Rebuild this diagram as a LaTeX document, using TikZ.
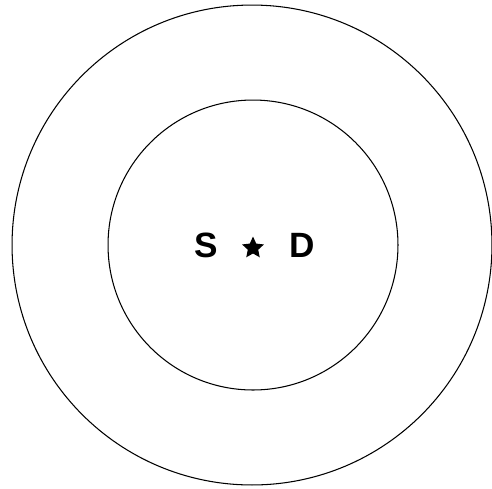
\documentclass[tikz,border=0pt]{standalone}
\usepackage{fontspec}
\setmainfont{Liberation Sans}
\usepackage{tikz}
\usetikzlibrary{positioning,shapes.geometric}

\begin{document}
\begin{tikzpicture}[
  x=0.02cm, y=-0.02cm,
  ring/.style={draw, circle, line width=0.6pt, inner sep=0pt, outer sep=0pt},
  lbl/.style={font=\fontsize{20}{24}\selectfont\bfseries, inner sep=0pt, anchor=base},
  starmark/.style={star, star points=5, star point ratio=2.1, fill=black, draw=none, minimum size=0.46cm, inner sep=0pt},
]
\useasboundingbox (0,0) rectangle (492,488);

% rings
\node[ring, minimum size=9.6cm] (outer) at (252,245) {};
\node[ring, minimum size=5.8cm] (inner) at (253,245) {};

% source and destination
\node[starmark] (src) at (253,248) {};
\node[lbl] (s) at (206,257) {S};
\node[lbl] (d) at (302,257) {D};

\end{tikzpicture}
\end{document}
